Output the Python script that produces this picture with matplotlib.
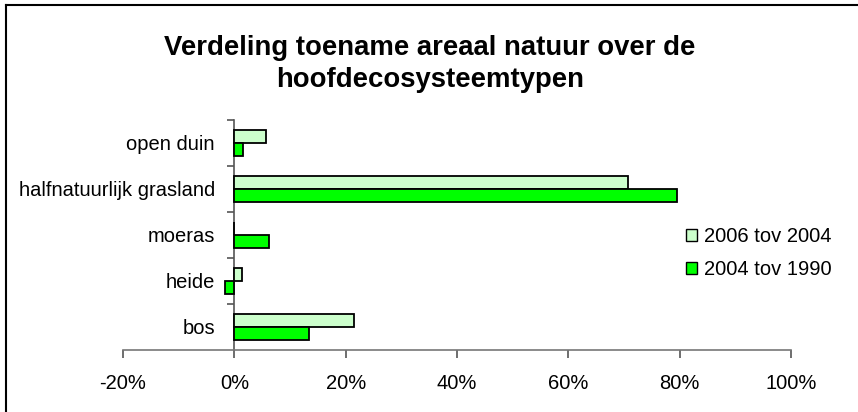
import matplotlib
matplotlib.use("Agg")
import matplotlib.pyplot as plt
from matplotlib.lines import Line2D
from matplotlib.ticker import FixedLocator, FuncFormatter
import numpy as np

plt.rcParams['font.family'] = ['Liberation Sans', 'DejaVu Sans']

categories = ["bos", "heide", "moeras", "halfnatuurlijk grasland", "open duin"]
series_names = ["2006 tov 2004", "2004 tov 1990"]
vals_2006_2004 = [21.5, 1.4, 0.0, 70.8, 5.6]
vals_2004_1990 = [13.4, -1.6, 6.3, 79.6, 1.5]
x_ticks = [-20, 0, 20, 40, 60, 80, 100]
title = "Verdeling toename areaal natuur over de\nhoofdecosysteemtypen"

W, H = 858, 412
fig = plt.figure(figsize=(W / 100, H / 100), dpi=100)
fig.patch.set_facecolor('white')

# axes placement in pixels
x0, x1 = 123, 791
y0, y1 = 120, 350
ax = fig.add_axes([x0 / W, 1 - y1 / H, (x1 - x0) / W, (y1 - y0) / H])

pos = np.arange(len(categories))
bh = 0.293
light = '#CCFFCC'
dark = '#00FF00'
ax.barh(pos + bh / 2, vals_2006_2004, height=bh, color=light, edgecolor='black',
        linewidth=1.3, label=series_names[0], zorder=3)
ax.barh(pos - bh / 2, vals_2004_1990, height=bh, color=dark, edgecolor='black',
        linewidth=1.3, label=series_names[1], zorder=3)

ax.set_xlim(-20, 100)
ax.set_ylim(-0.5, len(categories) - 0.5)

for s in ['top', 'right']:
    ax.spines[s].set_visible(False)
ax.spines['left'].set_position(('data', 0))
ax.spines['left'].set_color('#555555')
ax.spines['bottom'].set_color('#777777')
ax.spines['left'].set_linewidth(1.2)
ax.spines['bottom'].set_linewidth(1.2)

ax.xaxis.set_major_locator(FixedLocator(x_ticks))
ax.xaxis.set_major_formatter(FuncFormatter(lambda v, p: f"{int(round(v))}%"))
ax.tick_params(axis='x', direction='out', length=6, width=1.2, color='#555555',
               labelsize=14.5, pad=11)

ax.yaxis.set_major_locator(FixedLocator(list(pos[:-1] + 0.5) + [len(categories) - 0.5]))
ax.yaxis.set_major_formatter(FuncFormatter(lambda v, p: ""))
ax.yaxis.set_minor_locator(FixedLocator(pos))
ax.yaxis.set_minor_formatter(FuncFormatter(lambda v, p: categories[int(round(v))]))
ax.tick_params(axis='y', which='major', direction='out', length=5, width=1.2, color='#555555')
ax.tick_params(axis='y', which='minor', length=0, labelsize=14.5, pad=14)

fig.text(430 / W, 1 - 35 / H, title, ha='center', va='top', fontsize=19.8,
         fontweight='bold', linespacing=1.3)

handles = [plt.Rectangle((0, 0), 1, 1, facecolor=light, edgecolor='black', linewidth=1),
           plt.Rectangle((0, 0), 1, 1, facecolor=dark, edgecolor='black', linewidth=1)]
fig.legend(handles, series_names, loc='center left',
           bbox_to_anchor=(676 / W, 1 - 253 / H), frameon=False, fontsize=14.5,
           handlelength=0.55, handleheight=0.55, handletextpad=0.35, labelspacing=0.7,
           borderpad=0)

# figure border (left and top visible)
fig.add_artist(Line2D([6 / W, 6 / W], [0, 1 - 5 / H], color='black', linewidth=1.5,
                      transform=fig.transFigure))
fig.add_artist(Line2D([6 / W, 1], [1 - 5 / H, 1 - 5 / H], color='black', linewidth=1.5,
                      transform=fig.transFigure))

fig.savefig('out.png', dpi=100)
